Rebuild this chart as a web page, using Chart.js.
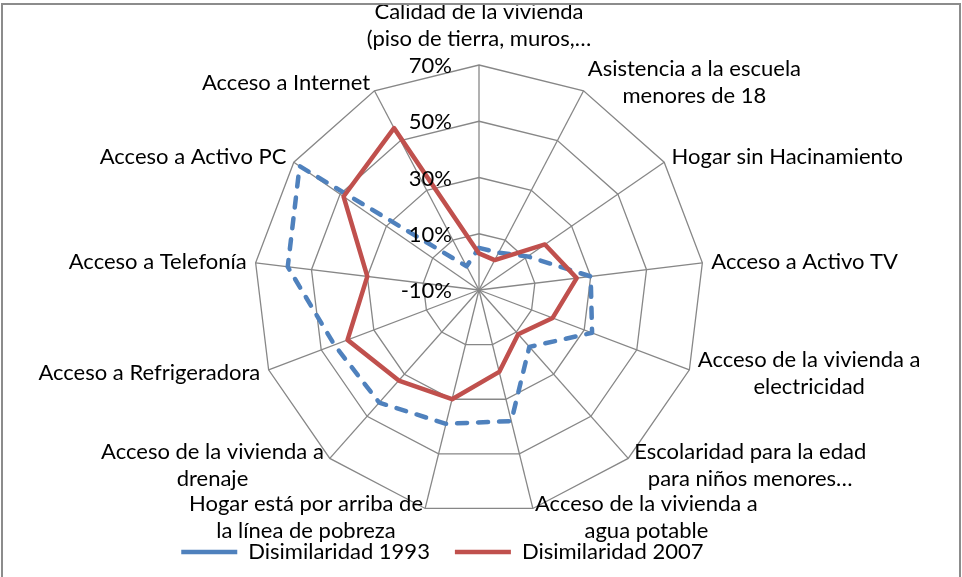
<!DOCTYPE html>
<html>
<head>
<meta charset="utf-8">
<script src="https://cdn.jsdelivr.net/npm/chart.js@4.4.1/dist/chart.umd.min.js"></script>
<style>
  html, body { margin: 0; padding: 0; background: #fff; overflow: hidden; }
  #wrap { position: absolute; left: 0; top: 0; width: 962px; height: 573px; }
  #frame { position: absolute; left: 1px; top: 3px; width: 956px; height: 580px;
           border: 2px solid #8c8c8c; border-bottom: none; pointer-events: none; }
</style>
</head>
<body>
<div id="wrap"><canvas id="radarChart"></canvas></div>
<div id="frame"></div>
<script>
const categories = [
  ["Calidad de la vivienda", "(piso de tierra, muros,…"],
  ["Asistencia a la escuela", "menores de 18"],
  "Hogar sin Hacinamiento",
  "Acceso a Activo TV",
  ["Acceso de la vivienda a", "electricidad"],
  ["Escolaridad para la edad", "para niños menores…"],
  ["Acceso de la vivienda a", "agua potable"],
  ["Hogar está por arriba de", "la línea de pobreza"],
  ["Acceso de la vivienda a", "drenaje"],
  "Acceso a Refrigeradora",
  "Acceso a Telefonía",
  "Acceso a Activo PC",
  "Acceso a Internet",
];
// values in %
const dis1993 = [5, 5, 11, 30, 33, 17, 38, 39, 43.5, 45, 58.5, 67.5, -0.5];
const dis2007 = [3, 2, 18.5, 25, 18, 11, 20, 30, 33, 40, 30, 48.5, 55];
const tickMin = -10;
const tickMax = 70;
const tickStep = 20;

const textFont = "Lato";

// value labels sit left of the top spoke, like Excel
const tickLabelPlugin = {
  id: "tickLabels",
  afterDatasetsDraw(chart) {
    const scale = chart.scales.r;
    const ctx = chart.ctx;
    ctx.save();
    ctx.font = "22px " + textFont;
    ctx.fillStyle = "#000";
    ctx.textAlign = "right";
    ctx.textBaseline = "middle";
    scale.ticks.forEach((tick) => {
      const d = scale.getDistanceFromCenterForValue(tick.value);
      ctx.fillText(tick.value + "%", scale.xCenter - 27, scale.yCenter - d + 1);
    });
    ctx.restore();
  },
};

// category labels: block of centred lines next to each spoke end
const pointLabelPlugin = {
  id: "excelPointLabels",
  afterDatasetsDraw(chart) {
    const scale = chart.scales.r;
    const ctx = chart.ctx;
    const lineH = 27;
    ctx.save();
    ctx.font = "22px " + textFont;
    ctx.fillStyle = "#000";
    ctx.textAlign = "center";
    ctx.textBaseline = "middle";
    categories.forEach((label, i) => {
      const lines = Array.isArray(label) ? label : [label];
      const blockW = Math.max(...lines.map((l) => ctx.measureText(l).width));
      let cx, cy;
      if (i === 0) {
        const p = scale.getPointPosition(i, scale.drawingArea + 40);
        cx = p.x;
        cy = p.y;
      } else {
        const p = scale.getPointPosition(i, scale.drawingArea + 9);
        const side = i < categories.length / 2 ? 1 : -1;
        cx = p.x + side * (blockW / 2);
        cy = p.y;
      }
      lines.forEach((l, k) => {
        ctx.fillText(l, cx, cy + (k - (lines.length - 1) / 2) * lineH);
      });
    });
    ctx.restore();
  },
};

document.fonts.load("22px " + textFont).then(() => {
  const ctx = document.getElementById("radarChart").getContext("2d");
  new Chart(ctx, {
    type: "radar",
    data: {
      labels: categories,
      datasets: [
        {
          label: "Disimilaridad 1993",
          data: dis1993,
          borderColor: "#4F81BD",
          backgroundColor: "#4F81BD",
          borderWidth: 4.5,
          borderDash: [10, 11],
          borderCapStyle: "round",
          borderJoinStyle: "round",
          fill: false,
          pointRadius: 0,
          order: 1,
        },
        {
          label: "Disimilaridad 2007",
          data: dis2007,
          borderColor: "#C0504D",
          backgroundColor: "#C0504D",
          borderWidth: 4.5,
          borderJoinStyle: "round",
          fill: false,
          pointRadius: 0,
          order: 0,
        },
      ],
    },
    options: {
      responsive: true,
      maintainAspectRatio: false,
      animation: false,
      layout: { padding: { top: 65, right: 4 } },
      scales: {
        r: {
          min: tickMin,
          max: tickMax,
          ticks: { stepSize: tickStep, display: false },
          grid: { color: "#878787", lineWidth: 1.3 },
          angleLines: { color: "#878787", lineWidth: 1.3 },
          pointLabels: { display: false },
        },
      },
      plugins: {
        tooltip: { enabled: false },
        legend: {
          position: "bottom",
          reverse: true,
          labels: {
            font: { family: textFont, size: 22 },
            color: "#000",
            usePointStyle: true,
            pointStyle: "line",
            pointStyleWidth: 56,
            padding: 25,
            // Excel's legend sits left of centre: pad the last entry
            generateLabels(chart) {
              const items = Chart.defaults.plugins.legend.labels.generateLabels(chart);
              items.forEach((item) => {
                if (item.datasetIndex === 1) item.text += "\u00a0".repeat(13);
              });
              return items;
            },
          },
        },
      },
    },
    plugins: [tickLabelPlugin, pointLabelPlugin],
  });
});
</script>
</body>
</html>
